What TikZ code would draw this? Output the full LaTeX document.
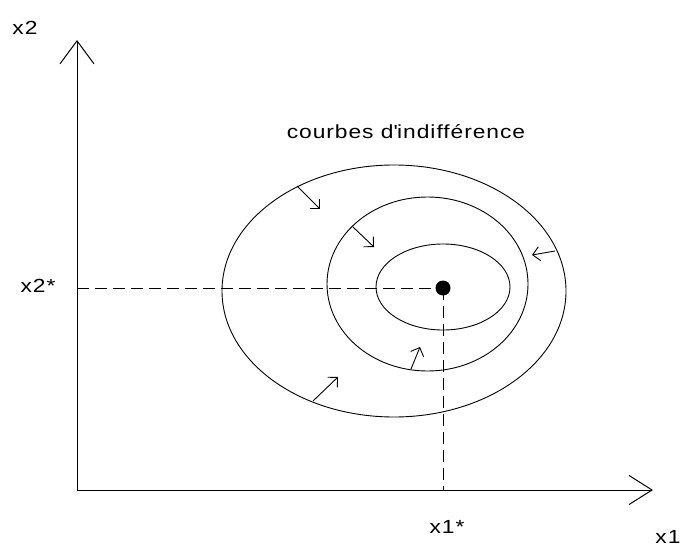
\documentclass[tikz,border=0pt]{standalone}
\usepackage{fontspec}
\setmainfont{Liberation Sans}[FakeStretch=1.2, LetterSpace=5]
\usetikzlibrary{arrows.meta}
\begin{document}
\begin{tikzpicture}[x=1pt,y=-1pt,
  axis/.style={line width=1pt, line join=miter},
  curve/.style={line width=0.9pt},
  dashline/.style={line width=0.9pt, dash pattern=on 12pt off 6pt},
  small/.style={line width=0.9pt, -{Straight Barb[length=7pt,width=14pt,line width=0.9pt]}},
  lbl/.style={font=\fontsize{19}{21}\selectfont, inner sep=0pt}]
\useasboundingbox (0,0) rectangle (684,548);
% axes
\coordinate (O) at (77,490);
\coordinate (ytip) at (77,40);
\coordinate (xtip) at (653,490);
\draw[axis, -{Straight Barb[length=23pt,width=34pt,line width=1pt]}] (O) -- (ytip);
\draw[axis, -{Straight Barb[length=23pt,width=29pt,line width=1pt]}] (O) -- (xtip);
% labels
\node[lbl] (lx2) at (25,28) {x2};
\node[lbl] (lx2s) at (38,286) {x2*};
\node[lbl] (lx1s) at (447,527) {x1*};
\node[lbl] (lx1) at (668,537) {x1};
\node[lbl] (title) at (406,132) {courbes d\textquotesingle indifférence};
% ellipses
\draw[curve] (394,291) ellipse [x radius=172pt, y radius=126pt];
\draw[curve] (427.5,284) ellipse [x radius=100.5pt, y radius=87pt];
\draw[curve] (443,287) ellipse [x radius=67pt, y radius=43pt];
% optimum
\node[circle, fill=black, minimum size=15pt, inner sep=0pt] (opt) at (443,288) {};
\coordinate (yax) at (77,288);
\coordinate (xax) at (443,490);
\draw[dashline] (yax) -- (opt.center);
\draw[dashline] (opt.center) -- (xax);
% small arrows
\coordinate (a1s) at (297,186); \coordinate (a1e) at (320,209);
\coordinate (a2s) at (353,227); \coordinate (a2e) at (374,247);
\coordinate (a3s) at (555,251); \coordinate (a3e) at (532,255);
\coordinate (a4s) at (313,401); \coordinate (a4e) at (338,377);
\coordinate (a5s) at (411,369); \coordinate (a5e) at (420,347);
\draw[small] (a1s) -- (a1e);
\draw[small] (a2s) -- (a2e);
\draw[small] (a3s) -- (a3e);
\draw[small] (a4s) -- (a4e);
\draw[small] (a5s) -- (a5e);
\end{tikzpicture}
\end{document}
